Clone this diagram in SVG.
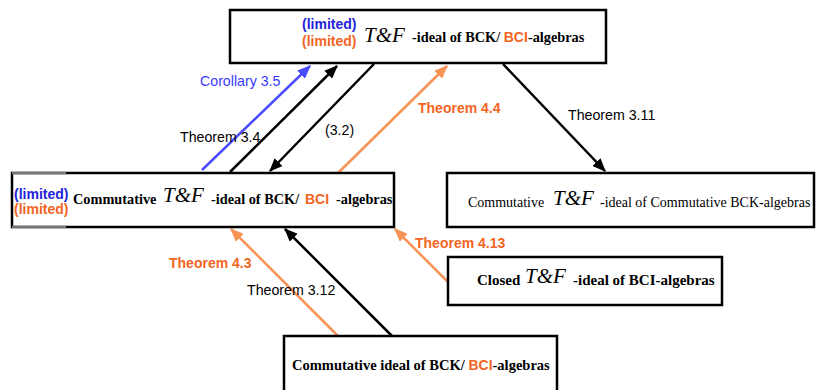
<svg xmlns="http://www.w3.org/2000/svg" width="817" height="390" viewBox="0 0 817 390">
<style>
.box{fill:#fff;stroke:#000;stroke-width:2.5}
.tb{font-family:"Liberation Serif",serif;font-weight:bold;font-size:14.3px;fill:#000}
.tr{font-family:"Liberation Serif",serif;font-size:14px;fill:#000}
.tf{font-family:"Liberation Serif",serif;font-style:italic;font-size:21px;fill:#000}
.sb{font-family:"Liberation Sans",Arial,sans-serif;font-weight:bold;font-size:14px}
.lbl{font-family:"Liberation Sans",Arial,sans-serif;font-size:14.2px;fill:#000}
.ob{font-family:"Liberation Sans",Arial,sans-serif;font-weight:bold;font-size:14px;fill:#f26522}
.blue{fill:#2323d8}
.or{fill:#f26522}
.ln{fill:none;stroke-width:2.5}
</style>
<defs>
<marker id="ak" viewBox="0 0 12 10" refX="11" refY="5" markerWidth="5.5" markerHeight="4.5" orient="auto" markerUnits="strokeWidth"><path d="M0,0L12,5L0,10z" fill="#000"/></marker>
<marker id="ab" viewBox="0 0 12 10" refX="11" refY="5" markerWidth="5.5" markerHeight="4.5" orient="auto" markerUnits="strokeWidth"><path d="M0,0L12,5L0,10z" fill="#4a4aff"/></marker>
<marker id="ao" viewBox="0 0 12 10" refX="11" refY="5" markerWidth="5.5" markerHeight="4.5" orient="auto" markerUnits="strokeWidth"><path d="M0,0L12,5L0,10z" fill="#f79355"/></marker>
</defs>
<g id="connectors">
<line class="ln" x1="202" y1="170" x2="310" y2="66" stroke="#4a4aff" marker-end="url(#ab)"/>
<line class="ln" x1="230" y1="172" x2="337" y2="66" stroke="#000" marker-end="url(#ak)"/>
<line class="ln" x1="374" y1="64" x2="270" y2="171" stroke="#000" marker-end="url(#ak)"/>
<line class="ln" x1="338" y1="173" x2="447" y2="66" stroke="#f79355" marker-end="url(#ao)"/>
<line class="ln" x1="503" y1="64" x2="605" y2="171" stroke="#000" marker-end="url(#ak)"/>
<line class="ln" x1="339" y1="337" x2="231" y2="229" stroke="#f79355" marker-end="url(#ao)"/>
<line class="ln" x1="393" y1="337" x2="285" y2="229" stroke="#000" marker-end="url(#ak)"/>
<line class="ln" x1="448" y1="282" x2="395" y2="229" stroke="#f79355" marker-end="url(#ao)"/>
<text class="lbl" x="200" y="86" style="fill:#3a3aff">Corollary 3.5</text>
<text class="lbl" x="180" y="142">Theorem 3.4</text>
<text class="lbl" x="325" y="135">(3.2)</text>
<text class="ob" x="418" y="113">Theorem 4.4</text>
<text class="lbl" x="568" y="120">Theorem 3.11</text>
<text class="ob" x="169" y="268">Theorem 4.3</text>
<text class="lbl" x="247" y="295">Theorem 3.12</text>
<text class="ob" x="415" y="248">Theorem 4.13</text>
</g>
<g id="top">
<rect class="box" x="230" y="10" width="376" height="53"/>
<text class="sb blue" x="302" y="29">(limited)</text>
<text class="sb or" x="302" y="46">(limited)</text>
<text class="tf" x="364" y="42">T&amp;F</text>
<text class="tb" x="412" y="42">-ideal of BCK/ <tspan class="sb or">BCI</tspan>-algebras</text>
</g>
<g id="commutative">
<rect class="box" x="12" y="173" width="382" height="54"/>
<path d="M12,173H66M12,227H66" stroke="#777" stroke-width="2.6" fill="none"/>
<text class="sb blue" x="14" y="199">(limited)</text>
<text class="sb or" x="14" y="214">(limited)</text>
<text class="tb" x="73" y="204">Commutative</text>
<text class="tf" x="163" y="202">T&amp;F</text>
<text class="tb" x="211" y="204">-ideal of BCK/</text>
<text class="sb or" x="305" y="204">BCI</text>
<text class="tb" x="336" y="204">-algebras</text>
</g>
<g id="commutative-bck">
<rect class="box" x="447" y="173" width="367" height="54"/>
<text class="tr" x="468" y="207">Commutative</text>
<text class="tf" x="553" y="205">T&amp;F</text>
<text class="tr" x="600" y="207">-ideal of Commutative BCK-algebras</text>
</g>
<g id="closed">
<rect class="box" x="448" y="257" width="274" height="48"/>
<text class="tb" x="477" y="285" style="font-size:15px">Closed</text>
<text class="tf" x="525" y="283">T&amp;F</text>
<text class="tb" x="573" y="285" style="font-size:15px">-ideal of BCI-algebras</text>
</g>
<g id="ideal">
<rect class="box" x="284" y="336" width="273" height="62"/>
<text class="tb" x="292" y="370" style="font-size:14.5px">Commutative ideal of BCK/ <tspan class="sb or">BCI</tspan>-algebras</text>
</g>
</svg>
